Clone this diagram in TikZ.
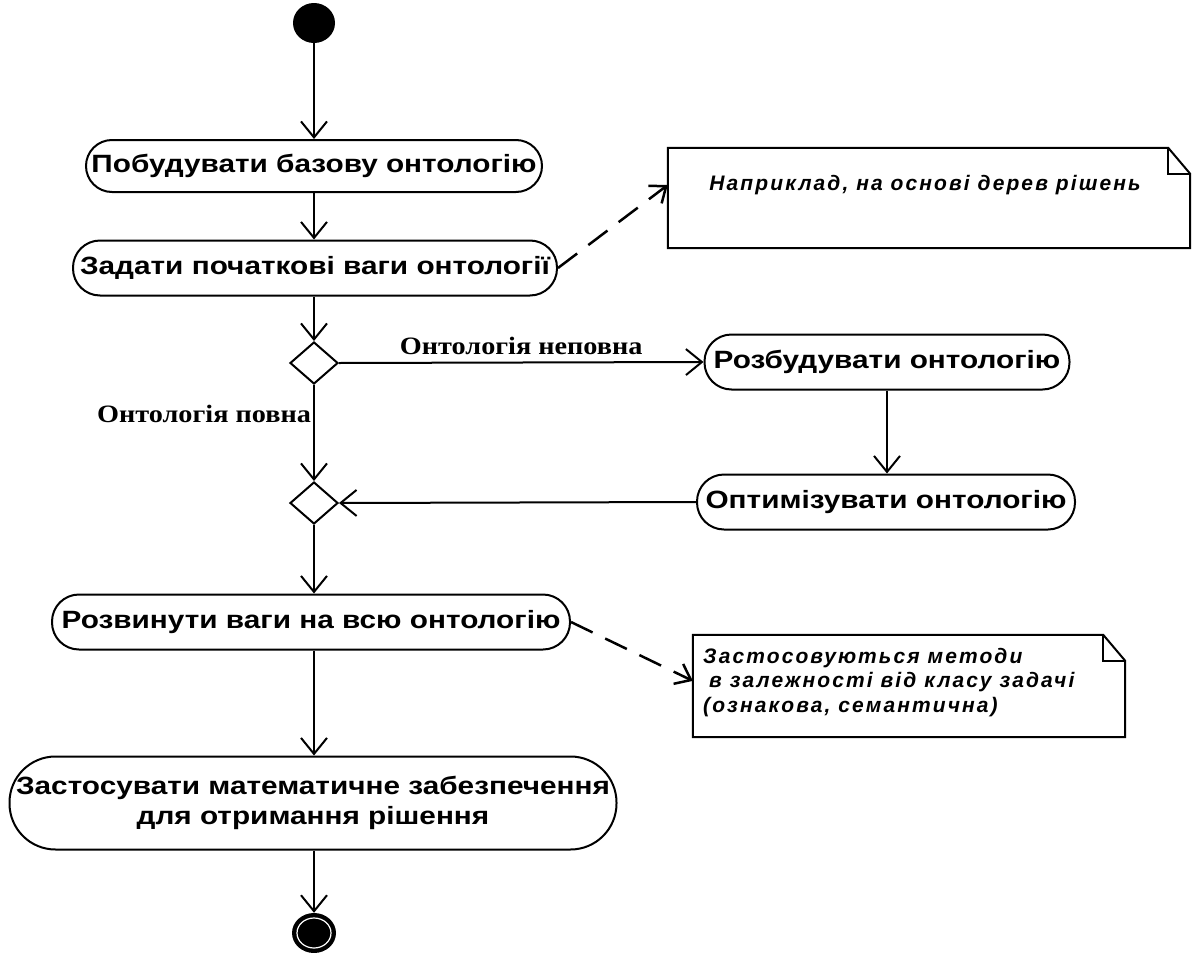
\documentclass[tikz,border=0pt]{standalone}
\usepackage{fontspec}
\setmainfont{Liberation Sans}
\newfontfamily\actfont[FakeStretch=1.19]{Liberation Sans}
\newfontfamily\labelfont[FakeStretch=1.13]{Liberation Serif}
\newfontfamily\notefont[LetterSpace=10]{Liberation Sans}
\usetikzlibrary{arrows.meta,shapes.geometric,calc}
\begin{document}
\begin{tikzpicture}[x=1pt,y=-1pt,
  act/.style={draw, line width=2pt, rounded corners=27pt, minimum height=55pt, inner sep=0pt,
    font=\actfont\fontsize{25}{30}\selectfont\bfseries, align=center},
  decision/.style={draw, diamond, line width=2pt, minimum width=48pt, minimum height=42pt, inner sep=0pt},
  flow/.style={line width=2pt, -{Straight Barb[length=16pt,width=26pt,line width=2pt]}},
  dep/.style={line width=2.5pt, dash pattern=on 24pt off 14pt, -{Straight Barb[length=14pt,width=22pt,line width=2.5pt]}},
  guard/.style={font=\labelfont\fontsize{25}{28}\selectfont\bfseries, inner sep=0pt},
  notetext/.style={font=\notefont\fontsize{21}{24.5}\selectfont\bfseries\itshape, inner sep=0pt},
  noteline/.style={line width=2pt}
]
\useasboundingbox (0,0) rectangle (1194,953);

% start
\node[ellipse, fill=black, minimum width=42pt, minimum height=40pt, inner sep=0pt] (start) at (314,23) {};

% activities
\node[act, minimum width=456pt, minimum height=52pt, rounded corners=26pt] (b1) at (314,166) {Побудувати базову онтологію};
\node[act, minimum width=484pt] (b2) at (315,268) {Задати початкові ваги онтології};
\node[decision] (d1) at (314,363) {};
\node[act, minimum width=365pt] (b3) at (887,362) {Розбудувати онтологію};
\node[act, minimum width=378pt] (b4) at (886,502) {Оптимізувати онтологію};
\node[decision] (d2) at (314,503) {};
\node[act, minimum width=518pt] (b5) at (311,622) {Розвинути ваги на всю онтологію};
\node[act, minimum width=607pt, minimum height=93pt, rounded corners=46pt] (b6) at (313,803) {Застосувати математичне забезпечення\\для отримання рішення};

% end
\node[ellipse, fill=black, minimum width=44pt, minimum height=40pt, inner sep=0pt] (end) at (314,933) {};
\draw[white, line width=1.2pt] (end.center) ellipse (17 and 15);

% notes
\node[minimum width=522pt, minimum height=100pt, inner sep=0pt] (n1) at (929,198) {};
\node[notetext] (n1t) at (925,185) {Наприклад, на основі дерев рішень};
\draw[noteline] (n1.north west) -- ($(n1.north east)+(-22,0)$) -- ($(n1.north east)+(0,26)$) -- (n1.south east) -- (n1.south west) -- cycle;
\draw[noteline] ($(n1.north east)+(-22,0)$) -- ($(n1.north east)+(-22,26)$) -- ($(n1.north east)+(0,26)$);

\node[minimum width=432pt, minimum height=102pt, inner sep=0pt] (n2) at (909,686) {};
\node[notetext, align=left, anchor=north west] (n2t) at (703,648) {Застосовуються методи\\\hspace{6pt}в залежності від класу задачі\\(ознакова, семантична)};
\draw[noteline] (n2.north west) -- ($(n2.north east)+(-22,0)$) -- ($(n2.north east)+(0,26)$) -- (n2.south east) -- (n2.south west) -- cycle;
\draw[noteline] ($(n2.north east)+(-22,0)$) -- ($(n2.north east)+(-22,26)$) -- ($(n2.north east)+(0,26)$);

\coordinate (n1in) at ($(n1.north west)!0.37!(n1.south west)$);
\coordinate (n2in) at ($(n2.north west)!0.45!(n2.south west)$);

% flows
\draw[flow] (start) -- (b1.north -| start);
\draw[flow] (b1.south -| start) -- (b2.north -| start);
\draw[flow] (b2.south -| start) -- (d1.north);
\draw[flow] (d1.east) -- (b3.west) node[guard, midway, above=7pt] {Онтологія неповна};
\draw[flow] (d1.south) -- (d2.north) node[guard, pos=0.3, left=2pt] {Онтологія повна};
\draw[flow] (b3.south) -- (b4.north -| b3.south);
\draw[flow] (b4.west) -- (d2.east);
\draw[flow] (d2.south) -- (b5.north -| d2.south);
\draw[flow] (b5.south -| start) -- (b6.north -| start);
\draw[flow] (b6.south -| start) -- (end.north);

\draw[dep] (b2.east) -- (n1in);
\draw[dep] (b5.east) -- (n2in);
\end{tikzpicture}
\end{document}
